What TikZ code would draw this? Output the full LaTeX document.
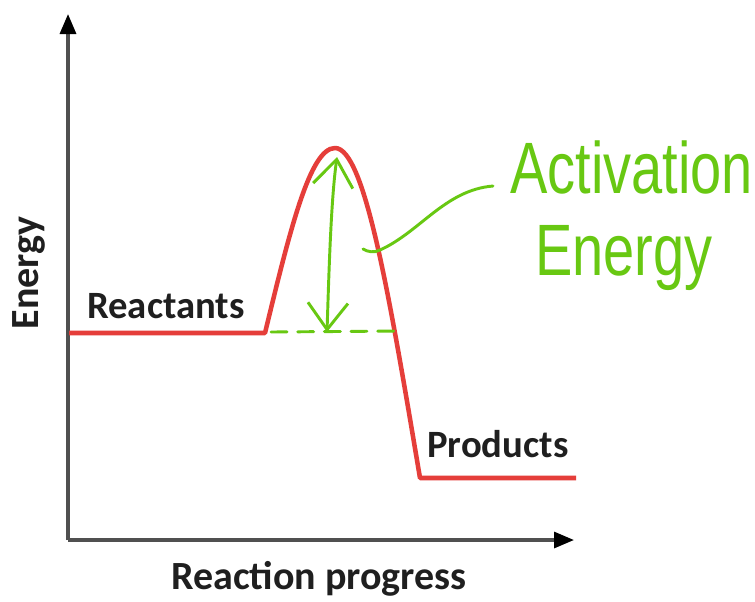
\documentclass[tikz,border=0pt]{standalone}
\usepackage{fontspec}
\setmainfont{Carlito}
\newfontfamily\handfont{Liberation Sans}
\usetikzlibrary{arrows.meta}
\definecolor{curvered}{RGB}{229,62,58}
\definecolor{inkgreen}{RGB}{104,200,18}
\definecolor{axisgrey}{RGB}{80,80,80}
\tikzset{
  axisline/.style={draw=axisgrey, line width=2.4pt, -{Triangle[length=15pt,width=12pt,fill=black,color=black]}},
  profile/.style={draw=curvered, line width=3.4pt, line join=round},
  greenink/.style={draw=inkgreen, line width=2.2pt, line cap=round, line join=round},
  barb/.style={greenink, {Straight Barb[length=20pt,width=30pt,line width=2.2pt]}-{Straight Barb[length=20pt,width=30pt,line width=2.2pt]}},
  biglabel/.style={font=\bfseries\fontsize{29}{34}\selectfont, text=black!88, inner sep=0pt},
  axislabel/.style={font=\bfseries\fontsize{30}{35}\selectfont, text=black!88, inner sep=0pt},
  handlabel/.style={font=\handfont\fontsize{42}{48}\selectfont, text=inkgreen, inner sep=0pt, yscale=1.3, transform shape},
}
\begin{document}
\begin{tikzpicture}[x=0.75pt, y=-0.75pt]
  \useasboundingbox (0,0) rectangle (755,601);
  \fill[white] (0,0) rectangle (755,601);

  % axes
  \coordinate (origin) at (68,540);
  \coordinate (ytip) at (68,14);
  \coordinate (xtip) at (574,540);
  \draw[axisline] (origin) -- (ytip);
  \draw[axisline] (origin) -- (xtip);

  % energy profile
  \coordinate (rstart) at (69,333);
  \coordinate (rend) at (265,333);
  \coordinate (peak) at (335,148);
  \coordinate (pstart) at (420,478);
  \coordinate (pend) at (576,478);
  \draw[profile] (rstart) -- (rend)
    .. controls (290,230) and (310,148) .. (peak)
    .. controls (365,148) and (390,300) .. (pstart) -- (pend);

  % activation energy marker
  \coordinate (dashL) at (271,332);
  \coordinate (dashR) at (400,331);
  \draw[greenink, dash pattern=on 12pt off 8pt] (dashL) -- (dashR);
  \coordinate (eaTop) at (337,157);
  \coordinate (eaBot) at (327,332);
  \draw[barb] (eaBot) .. controls (329,270) and (331,200) .. (eaTop);

  % leader to annotation
  \coordinate (leadA) at (363,249);
  \coordinate (leadB) at (493,186);
  \draw[greenink] (leadA) .. controls (368,252) and (374,253) .. (380,250)
    .. controls (420,232) and (445,190) .. (leadB);

  % labels
  \node[biglabel, anchor=base west] (reactants) at (87,318) {Reactants};
  \node[biglabel, anchor=base west] (products) at (427,457) {Products};
  \node[axislabel, anchor=base] (xlabel) at (319,589) {Reaction progress};
  \node[axislabel, anchor=base, rotate=90] (ylabel) at (38,273) {Energy};
  \node[handlabel, anchor=base west] (actword) at (510,193) {Activation};
  \node[handlabel, anchor=base west] (enword) at (535,275) {Energy};
\end{tikzpicture}
\end{document}
